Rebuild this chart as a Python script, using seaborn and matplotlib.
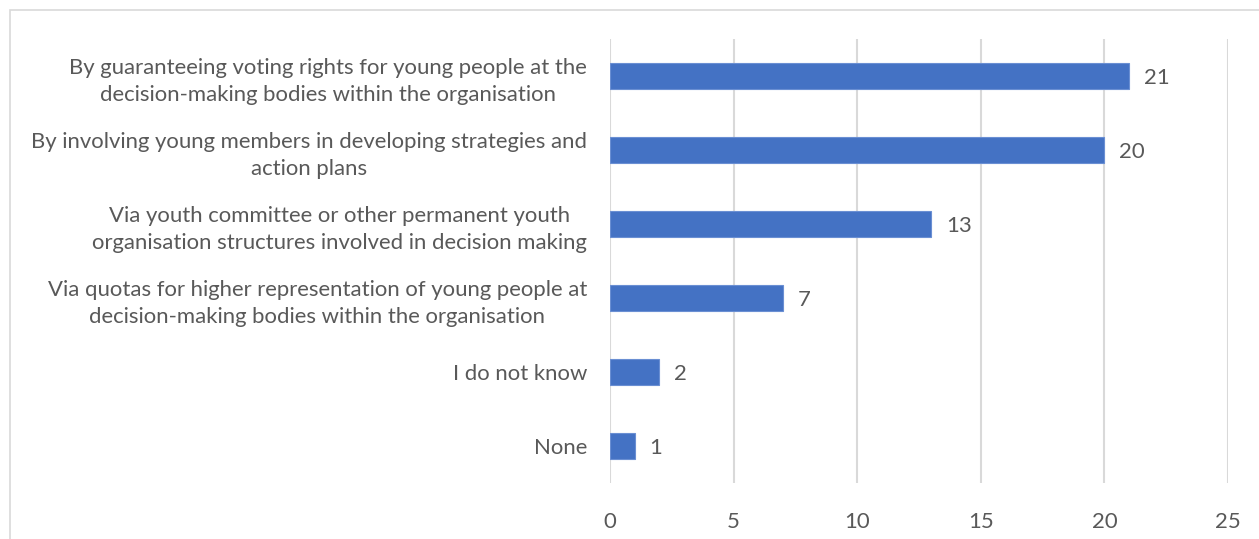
import matplotlib
matplotlib.use("Agg")
import matplotlib.pyplot as plt
import seaborn as sns
import pandas as pd
from matplotlib.patches import Rectangle

categories = [
    "By guaranteeing voting rights for young people at the\ndecision-making bodies within the organisation",
    "By involving young members in developing strategies and\naction plans",
    "Via youth committee or other permanent youth\norganisation structures involved in decision making",
    "Via quotas for higher representation of young people at\ndecision-making bodies within the organisation",
    "I do not know",
    "None",
]
values = [21, 20, 13, 7, 2, 1]
xticks = [0, 5, 10, 15, 20, 25]

sns.set_theme(style="white")
plt.rcParams['font.family'] = ['Lato', 'DejaVu Sans']

df = pd.DataFrame({"cat": categories, "val": values})
text_color = "#595959"
grid_color = "#D9D9D9"
fs = 15.9

fig = plt.figure(figsize=(12.59, 5.39), dpi=100)
ax = fig.add_axes([610/1259, 1-483/539, (1228-610)/1259, (483-39)/539])

sns.barplot(data=df, y="cat", x="val", color="#4472C4", width=0.355,
            saturation=1, edgecolor="#6A8FD3", linewidth=0.8, ax=ax, zorder=3)

ax.set_xlim(0, 25)
ax.set_xticks(xticks)
ax.set_xticklabels([str(t) for t in xticks], color=text_color, fontsize=fs)
ax.set_ylabel("")
ax.set_xlabel("")
for lbl in ax.get_yticklabels():
    lbl.set_multialignment("center")
    lbl.set_color(text_color)
    lbl.set_fontsize(fs)
    lbl.set_linespacing(1.45)
ax.tick_params(axis="y", length=0, pad=16.5)
ax.tick_params(axis="x", length=0, pad=21)
for s in ax.spines.values():
    s.set_visible(False)
ax.grid(axis="x", color=grid_color, linewidth=1.5, zorder=0)
ax.grid(axis="y", visible=False)

for i, v in enumerate(values):
    ax.text(v + 0.6, i, str(v), va="center_baseline", ha="left", color=text_color, fontsize=fs)

fig.patches.append(Rectangle((10/1259, -0.1), 1.2, 1-10/539+0.1, transform=fig.transFigure,
                             fill=False, edgecolor=grid_color, linewidth=1.2))

fig.savefig("out.png", dpi=100)
